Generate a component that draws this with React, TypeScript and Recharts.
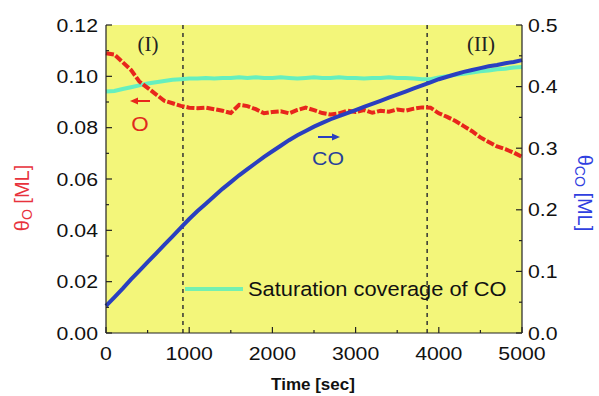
import { ComposedChart, Line, XAxis, YAxis, CartesianGrid, ReferenceLine } from "recharts";

const times = [
  0, 100, 200, 300, 400, 500, 600, 700, 800, 900, 1000, 1100, 1200, 1300, 1400, 1500, 1600,
  1700, 1800, 1900, 2000, 2100, 2200, 2300, 2400, 2500, 2600, 2700, 2800, 2900, 3000, 3100,
  3200, 3300, 3400, 3500, 3600, 3700, 3800, 3900, 4000, 4100, 4200, 4300, 4400, 4500, 4600,
  4700, 4800, 4900, 5000,
];

// oxygen coverage, left axis
const thetaO = [
  0.109, 0.1085, 0.1055, 0.1025, 0.098, 0.0955, 0.093, 0.0905, 0.0895, 0.0885, 0.0878, 0.0876,
  0.0878, 0.0872, 0.0866, 0.0857, 0.0889, 0.0884, 0.0872, 0.0856, 0.0861, 0.0864, 0.0856, 0.0869,
  0.0878, 0.0868, 0.0857, 0.0851, 0.0856, 0.0866, 0.0861, 0.0869, 0.0858, 0.0866, 0.0862, 0.0871,
  0.0866, 0.0874, 0.0879, 0.0878, 0.0856, 0.0842, 0.0826, 0.0806, 0.0786, 0.0762, 0.0744, 0.0727,
  0.0716, 0.0703, 0.0686,
];

// CO coverage, right axis
const thetaCO = [
  0.044, 0.058, 0.072, 0.087, 0.101, 0.115, 0.129, 0.143, 0.157, 0.171, 0.185, 0.198, 0.21,
  0.222, 0.234, 0.245, 0.256, 0.266, 0.276, 0.286, 0.295, 0.304, 0.313, 0.321, 0.328, 0.335, 0.341,
  0.347, 0.352, 0.357, 0.362, 0.367, 0.372, 0.377, 0.382, 0.387, 0.392, 0.397, 0.402, 0.407, 0.412,
  0.416, 0.42, 0.424, 0.427, 0.43, 0.433, 0.435, 0.438, 0.44, 0.443,
];

// saturation coverage of CO, right axis
const satCO = [
  0.392, 0.393, 0.396, 0.399, 0.402, 0.405, 0.407, 0.409, 0.411, 0.412, 0.413, 0.413, 0.414,
  0.413, 0.414, 0.414, 0.415, 0.414, 0.415, 0.414, 0.414, 0.415, 0.414, 0.413, 0.414, 0.415, 0.414,
  0.414, 0.415, 0.414, 0.414, 0.413, 0.414, 0.414, 0.415, 0.414, 0.414, 0.413, 0.412, 0.412, 0.415,
  0.417, 0.419, 0.421, 0.423, 0.425, 0.426, 0.428, 0.429, 0.431, 0.432,
];

const xTicks = [0, 500, 1000, 1500, 2000, 2500, 3000, 3500, 4000, 4500, 5000];
const leftTicks = [0, 0.01, 0.02, 0.03, 0.04, 0.05, 0.06, 0.07, 0.08, 0.09, 0.1, 0.11, 0.12];
const rightTicks = [0, 0.05, 0.1, 0.15, 0.2, 0.25, 0.3, 0.35, 0.4, 0.45, 0.5];
const regionBounds = [925, 3860];

const data = times.map((t, i) => ({ t, o: thetaO[i], co: thetaCO[i], sat: satCO[i] }));

const FONT = "'Liberation Sans', Arial, sans-serif";
const isMajor = (v: number, step: number) => Math.abs(v / step - Math.round(v / step)) < 1e-6;

const tickText = (x: number, y: number, anchor: string, label: string) => (
  <text
    transform={`translate(${x},${y}) scale(1.12,1)`}
    textAnchor={anchor}
    dominantBaseline="central"
    fontFamily={FONT}
    fontSize={19}
    fill="#111"
  >
    {label}
  </text>
);

const BottomTick = ({ x, y, payload }: any) => {
  const major = isMajor(payload.value, 1000);
  return (
    <g>
      <line x1={x} x2={x} y1={y} y2={y - (major ? 6 : 3)} stroke="#222" strokeWidth={1.2} />
      {major && tickText(x, y + 20, "middle", String(payload.value))}
    </g>
  );
};

const TopTick = ({ x, y, payload }: any) => {
  const major = isMajor(payload.value, 1000);
  return <line x1={x} x2={x} y1={y} y2={y + (major ? 6 : 3)} stroke="#222" strokeWidth={1.2} />;
};

const LeftTick = ({ x, y, payload }: any) => {
  const major = isMajor(payload.value, 0.02);
  return (
    <g>
      <line x1={x} x2={x + (major ? 6 : 3)} y1={y} y2={y} stroke="#222" strokeWidth={1.2} />
      {major && tickText(x - 8, y, "end", payload.value.toFixed(2))}
    </g>
  );
};

const RightTick = ({ x, y, payload }: any) => {
  const major = isMajor(payload.value, 0.1);
  return (
    <g>
      <line x1={x} x2={x - (major ? 6 : 3)} y1={y} y2={y} stroke="#222" strokeWidth={1.2} />
      {major && tickText(x + 6, y, "start", payload.value.toFixed(1))}
    </g>
  );
};

export default function App() {
  return (
    <div style={{ position: "absolute", left: 0, top: 0, width: 599, height: 396, background: "#fff" }}>
      <ComposedChart width={599} height={396} data={data} margin={{ top: 25, right: 0, bottom: 0, left: 0 }}>
        <CartesianGrid fill="#f3f67a" horizontal={false} vertical={false} xAxisId="b" yAxisId="l" />
        <XAxis
          xAxisId="b"
          dataKey="t"
          type="number"
          domain={[0, 5000]}
          ticks={xTicks}
          height={63}
          tickSize={0}
          tickMargin={0}
          tickLine={false}
          axisLine={{ stroke: "#222", strokeWidth: 1.2 }}
          tick={<BottomTick />}
          interval={0}
        />
        <XAxis
          xAxisId="top"
          orientation="top"
          dataKey="t"
          type="number"
          domain={[0, 5000]}
          ticks={xTicks}
          height={0}
          tickSize={0}
          tickMargin={0}
          tickLine={false}
          axisLine={{ stroke: "#222", strokeWidth: 1.2 }}
          tick={<TopTick />}
          interval={0}
        />
        <YAxis
          yAxisId="l"
          type="number"
          domain={[0, 0.12]}
          ticks={leftTicks}
          width={106}
          tickSize={0}
          tickMargin={0}
          tickLine={false}
          axisLine={{ stroke: "#222", strokeWidth: 1.2 }}
          tick={<LeftTick />}
          interval={0}
        />
        <YAxis
          yAxisId="r"
          orientation="right"
          type="number"
          domain={[0, 0.5]}
          ticks={rightTicks}
          width={77}
          tickSize={0}
          tickMargin={0}
          tickLine={false}
          axisLine={{ stroke: "#222", strokeWidth: 1.2 }}
          tick={<RightTick />}
          interval={0}
        />
        {regionBounds.map((b) => (
          <ReferenceLine
            key={b}
            x={b}
            xAxisId="b"
            yAxisId="l"
            stroke="#333"
            strokeWidth={1.5}
            strokeDasharray="4 4"
          />
        ))}
        <Line
          xAxisId="b"
          yAxisId="r"
          dataKey="sat"
          stroke="#66efbf"
          strokeWidth={4}
          dot={false}
          isAnimationActive={false}
        />
        <Line
          xAxisId="b"
          yAxisId="l"
          dataKey="o"
          stroke="#e8261c"
          strokeWidth={4}
          strokeDasharray="8 2"
          dot={false}
          isAnimationActive={false}
        />
        <Line
          xAxisId="b"
          yAxisId="r"
          dataKey="co"
          stroke="#2a3fc0"
          strokeWidth={4}
          dot={false}
          isAnimationActive={false}
        />
      </ComposedChart>

      <svg width={599} height={396} style={{ position: "absolute", left: 0, top: 0, pointerEvents: "none" }}>
        <g fontFamily="'Liberation Serif', 'Times New Roman', serif" fontSize={21} fill="#222">
          <text x={148} y={44} textAnchor="middle" dominantBaseline="central">(I)</text>
          <text x={481} y={44} textAnchor="middle" dominantBaseline="central">(II)</text>
        </g>

        {/* O marker with arrow pointing to the left axis */}
        <line x1={150} x2={136} y1={101} y2={101} stroke="#e8261c" strokeWidth={2} />
        <polygon points="130,101 138,97.5 138,104.5" fill="#e8261c" />
        <text transform="translate(140,124) scale(1.12,1)" textAnchor="middle" dominantBaseline="central" fontFamily={FONT} fontSize={20} fill="#e02a1c">O</text>

        {/* CO marker with arrow pointing to the right axis */}
        <line x1={318} x2={334} y1={137} y2={137} stroke="#2a3fc0" strokeWidth={2} />
        <polygon points="340,137 332,133.5 332,140.5" fill="#2a3fc0" />
        <text transform="translate(328,158) scale(1.12,1)" textAnchor="middle" dominantBaseline="central" fontFamily={FONT} fontSize={19} fill="#27409a">CO</text>

        {/* legend */}
        <line x1={185} x2={243} y1={289} y2={289} stroke="#74f0b0" strokeWidth={4} />
        <text transform="translate(248,289) scale(1.12,1)" dominantBaseline="central" fontFamily={FONT} fontSize={19.5} fill="#111">
          Saturation coverage of CO
        </text>

        {/* axis titles */}
        <text x={313} y={384} textAnchor="middle" dominantBaseline="central" fontFamily={FONT} fontSize={17} fontWeight="bold" fill="#111">
          Time [sec]
        </text>
        <text transform="translate(22,198) rotate(-90)" textAnchor="middle" dominantBaseline="central" fontFamily={FONT} fontSize={20} fill="#e8323c">
          θ<tspan fontSize={14} dy={5}>O</tspan><tspan dy={-5}> [ML]</tspan>
        </text>
        <text transform="translate(585,193) rotate(90)" textAnchor="middle" dominantBaseline="central" fontFamily={FONT} fontSize={20} fill="#3040e0">
          θ<tspan fontSize={14} dy={5}>CO</tspan><tspan dy={-5}> [ML]</tspan>
        </text>
      </svg>
    </div>
  );
}
